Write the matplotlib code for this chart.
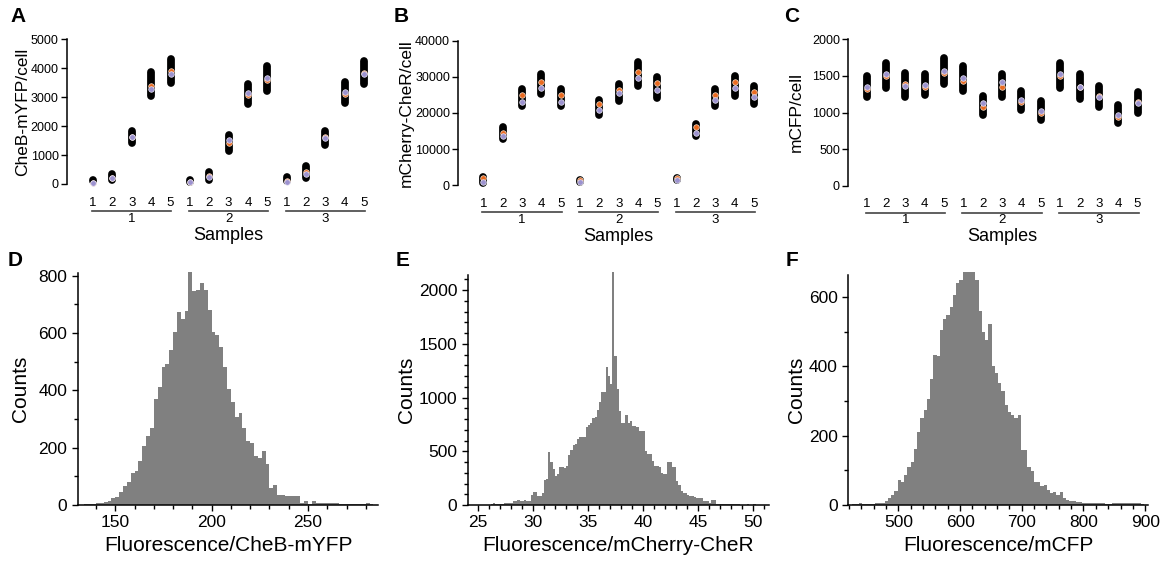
import numpy as np
import matplotlib
matplotlib.use("Agg")
import matplotlib.pyplot as plt
from matplotlib.ticker import MultipleLocator
from matplotlib.transforms import offset_copy

plt.rcParams['font.family'] = ['Liberation Sans', 'DejaVu Sans']

# ---------------- data: top row (per sample range + replicate means) ----------------
sample_labels = ['1', '2', '3', '4', '5'] * 3
group_labels = ['1', '2', '3']

yfp_lo = [100, 130, 1410, 3040, 3500, 80, 130, 1130, 2760, 3220, 90, 220, 1350, 2810, 3450]
yfp_hi = [130, 360, 1840, 3860, 4310, 140, 430, 1700, 3450, 4090, 250, 630, 1840, 3510, 4260]
yfp_orange = [50, 210, 1640, 3400, 3900, 70, 280, 1410, 3060, 3600, 100, 400, 1620, 3100, 3830]
yfp_purple = [40, 200, 1620, 3280, 3800, 60, 250, 1520, 3130, 3680, 80, 350, 1590, 3180, 3800]

cher_lo = [740, 12900, 21900, 25150, 21900, 920, 19350, 23300, 27450, 24200, 1470, 13600, 21900, 24700, 22400]
cher_hi = [2200, 16000, 26600, 30800, 26600, 1500, 23600, 28000, 34000, 29900, 2000, 16900, 26600, 30300, 27600]
cher_orange = [1950, 14600, 25000, 28700, 25000, 1500, 22400, 26500, 31400, 28200, 1950, 16000, 25000, 28700, 25900]
cher_purple = [1000, 13600, 23100, 26800, 23100, 1000, 20800, 25400, 29600, 26500, 1500, 14600, 23600, 26800, 24300]

cfp_lo = [1205, 1340, 1205, 1235, 1385, 1295, 965, 1205, 1030, 900, 1340, 1190, 1075, 855, 990]
cfp_hi = [1505, 1670, 1540, 1525, 1745, 1640, 1230, 1525, 1300, 1160, 1670, 1525, 1365, 1100, 1275]
cfp_orange = [1320, 1500, 1385, 1345, 1535, 1435, 1070, 1345, 1150, 1000, 1500, 1355, 1225, 945, 1150]
cfp_purple = [1345, 1525, 1360, 1375, 1565, 1475, 1125, 1410, 1170, 1025, 1525, 1355, 1215, 965, 1125]

# ---------------- data: bottom row histograms ----------------
yfp_bin0, yfp_binw = 134, 2
yfp_counts = [3, 5, 5, 6, 6, 12, 14, 24, 29, 44,
              65, 80, 112, 120, 155, 205, 240, 267, 370, 412,
              480, 490, 542, 604, 672, 649, 678, 813, 745, 750,
              773, 750, 681, 604, 592, 551, 480, 405, 358, 307,
              320, 267, 223, 217, 172, 165, 188, 142, 59, 70,
              35, 35, 30, 30, 30, 30, 7, 13, 5, 13,
              6, 6, 6, 6, 7, 7, 3, 2, 2, 2,
              2, 2, 2, 7, 2, 0]

cher_bin0, cher_binw = 25.0, 0.2
cher_counts = [0, 0, 2, 2, 3, 3, 12, 15, 10, 12,
               12, 10, 14, 15, 18, 18, 34, 38, 43, 36,
               34, 43, 36, 34, 96, 124, 118, 80, 85, 112,
               232, 245, 490, 400, 335, 267, 291, 353, 350, 344,
               366, 462, 515, 561, 570, 614, 629, 629, 630, 722,
               741, 763, 809, 815, 887, 958, 1048, 1048, 1280, 1203,
               1125, 2170, 1385, 1079, 877, 763, 763, 840, 763, 778,
               732, 732, 725, 685, 685, 685, 505, 474, 474, 412,
               360, 360, 350, 298, 288, 288, 400, 400, 353, 353,
               220, 189, 133, 112, 112, 96, 87, 87, 71, 65,
               65, 65, 34, 34, 34, 22, 50, 50, 12, 12,
               12, 12, 12, 12, 9, 9, 9, 9, 9, 3,
               3, 3, 5, 3, 3, 5, 3, 2, 0, 0]

cfp_bin0, cfp_binw = 420.25, 5.25
cfp_counts = [0, 2, 3, 5, 4, 2, 2, 4, 5, 5,
              7, 11, 20, 30, 40, 72, 67, 87, 110, 124,
              161, 210, 251, 275, 305, 363, 433, 430, 504, 537,
              548, 572, 606, 640, 649, 671, 671, 671, 671, 649,
              560, 499, 476, 522, 400, 380, 352, 328, 287, 268,
              260, 251, 260, 159, 159, 109, 97, 66, 66, 54,
              57, 44, 35, 37, 30, 37, 20, 13, 11, 11,
              8, 8, 5, 5, 5, 5, 5, 5, 5, 2,
              2, 5, 5, 5, 5, 6, 6, 6, 6, 6,
              3, 0]

W, H = 1168, 563
fig = plt.figure(figsize=(W / 100, H / 100), dpi=100)


def px_axes(left, top, right, bottom):
    return fig.add_axes([left / W, 1 - bottom / H, (right - left) / W, (bottom - top) / H])


ORANGE = '#ea6a1f'
PURPLE = '#9c92cf'


def top_panel(ax, lo, hi, orange, purple, ymax, ystep, ylabel, xlo, lab_x):
    x = np.arange(1, len(lo) + 1)
    lc = ax.vlines(x, lo, hi, color='black', lw=5.6, clip_on=False, zorder=2)
    lc.set_capstyle('round')
    ax.plot(x, orange, 'o', ms=4.0, color=ORANGE, mec='#fbe3d0', mew=0.5, zorder=3, clip_on=False)
    ax.plot(x, purple, 'o', ms=4.0, color=PURPLE, mec='#ece9f6', mew=0.5, zorder=4, clip_on=False)
    ax.set_xlim(xlo, 15.6)
    ax.set_ylim(0, ymax)
    for s in ['top', 'right', 'bottom']:
        ax.spines[s].set_visible(False)
    ax.spines['left'].set_linewidth(1.1)
    ax.set_yticks(np.arange(0, ymax + 1, ystep))
    ax.tick_params(axis='y', labelsize=9, length=4, width=1, pad=2)
    ax.set_xticks(x, sample_labels)
    ax.tick_params(axis='x', labelsize=9.5, length=0, pad=9)
    ax.set_ylabel(ylabel, fontsize=12.5)
    ax.yaxis.set_label_coords(lab_x, 0.5)
    tr_line = offset_copy(ax.get_xaxis_transform(), fig=fig, y=-27, units='dots')
    tr_text = offset_copy(ax.get_xaxis_transform(), fig=fig, y=-34.5, units='dots')
    tr_samp = offset_copy(ax.get_xaxis_transform(), fig=fig, y=-51, units='dots')
    for g, gl in enumerate(group_labels):
        c = 3 + 5 * g
        ax.plot([c - 2.05, c + 2.05], [0, 0], color='#444444', lw=1.2, transform=tr_line, clip_on=False)
        ax.text(c, 0, gl, transform=tr_text, ha='center', va='center', fontsize=9.5)
    ax.text(8, 0, 'Samples', transform=tr_samp, ha='center', va='center', fontsize=13)


axA = px_axes(67, 39.3, 375.6, 184)
top_panel(axA, yfp_lo, yfp_hi, yfp_orange, yfp_purple, 5000, 1000, 'CheB-mYFP/cell', -0.35, -0.121)
axB = px_axes(458.3, 40.7, 765.8, 185.3)
top_panel(axB, cher_lo, cher_hi, cher_orange, cher_purple, 40000, 10000, 'mCherry-CheR/cell', -0.29, -0.145)
axC = px_axes(848.3, 39.3, 1149.2, 185.7)
top_panel(axC, cfp_lo, cfp_hi, cfp_orange, cfp_purple, 2000, 500, 'mCFP/cell', 0.05, -0.148)


def hist_panel(ax, bin0, binw, counts, xlim, ylim, xmaj, xmin, ymaj, ymin, xlabel, lab_x):
    edges = bin0 + binw * np.arange(len(counts) + 1)
    ax.stairs(counts, edges, fill=True, color='#808080', lw=0, clip_on=False)
    ax.set_xlim(*xlim)
    ax.set_ylim(*ylim)
    for s in ['top', 'right']:
        ax.spines[s].set_visible(False)
    for s in ['left', 'bottom']:
        ax.spines[s].set_linewidth(1.1)
        ax.spines[s].set_zorder(5)
    ax.xaxis.set_major_locator(MultipleLocator(xmaj))
    ax.xaxis.set_minor_locator(MultipleLocator(xmin))
    ax.yaxis.set_major_locator(MultipleLocator(ymaj))
    ax.yaxis.set_minor_locator(MultipleLocator(ymin))
    ax.tick_params(which='major', labelsize=12.5, length=4.5, width=1, pad=3)
    ax.tick_params(which='minor', length=3, width=1)
    ax.set_xlabel(xlabel, fontsize=15)
    ax.set_ylabel('Counts', fontsize=15)
    ax.xaxis.set_label_coords(0.5, -0.135)
    ax.yaxis.set_label_coords(lab_x, 0.5)


axD = px_axes(77.7, 273.3, 378.3, 505)
hist_panel(axD, yfp_bin0, yfp_binw, yfp_counts, (130.5, 286.5), (0, 808),
           50, 10, 200, 100, 'Fluorescence/CheB-mYFP', -0.159)
axE = px_axes(467.7, 275, 769.3, 505)
hist_panel(axE, cher_bin0, cher_binw, cher_counts, (24.09, 51.45), (0, 2140),
           5, 1, 500, 100, 'Fluorescence/mCherry-CheR', -0.171)
axF = px_axes(848.3, 275, 1148.3, 505)
hist_panel(axF, cfp_bin0, cfp_binw, cfp_counts, (418.9, 905), (0, 663),
           100, 20, 200, 100, 'Fluorescence/mCFP', -0.141)

for letter, (lx, ly) in zip('ABCDEF', [(10, 7), (394, 7), (784, 7), (8, 251), (396, 251), (786, 251)]):
    fig.text(lx / W, 1 - ly / H, letter, fontsize=15, fontweight='bold', ha='left', va='top')

fig.savefig('out.png', dpi=100)
